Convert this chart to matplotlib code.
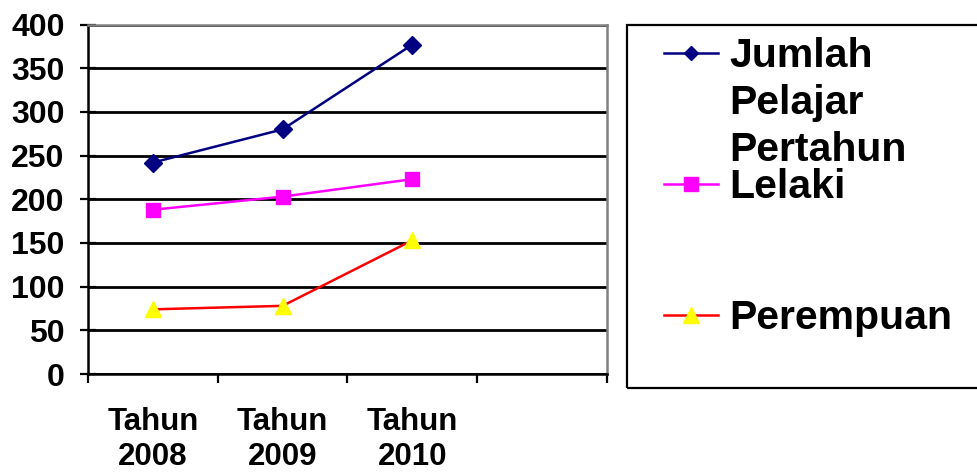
import numpy as np
import matplotlib
matplotlib.use("Agg")
import matplotlib.pyplot as plt
from matplotlib.lines import Line2D
from matplotlib.patches import Rectangle

plt.rcParams['font.family'] = ['Liberation Sans', 'DejaVu Sans']
plt.rcParams['font.weight'] = 'bold'

# --- data ---
categories = ["Tahun\n2008", "Tahun\n2009", "Tahun\n2010", ""]
jumlah = [242, 280, 377]
lelaki = [188, 203, 223]
perempuan = [74, 78, 153]
labels = ["Jumlah\nPelajar\nPertahun", "Lelaki", "Perempuan"]
y_ticks = [0, 50, 100, 150, 200, 250, 300, 350, 400]

W, H = 978, 474
fig = plt.figure(figsize=(W / 100, H / 100), dpi=100)

def fx(p):
    return p / W

def fy(p):
    return 1 - p / H

# plot area in pixels: left 88, right 607, top 24.5, bottom 374
ax = fig.add_axes([fx(88), fy(374), fx(607) - fx(88), fy(24.5) - fy(374)])

x = np.arange(len(jumlah)) + 0.5
ax.plot(x, jumlah, color='#000080', lw=1.8, marker='D', ms=9,
        mfc='#000080', mec='#000080')
ax.plot(x, lelaki, color='#FF00FF', lw=1.8, marker='s', ms=10.5,
        mfc='#FF00FF', mec='#FF00FF')
ax.plot(x, perempuan, color='#FF0000', lw=1.8, marker='^', ms=12,
        mfc='#FFFF00', mec='#FFFF00')

ax.set_xlim(0, len(categories))
ax.set_ylim(0, 400)
ax.set_yticks(y_ticks)
ax.set_yticklabels([str(v) for v in y_ticks], fontsize=23, fontweight='bold')
ax.tick_params(axis='y', direction='inout', length=11.5, width=1.6, pad=11)

ax.set_xticks(np.arange(len(categories) + 1))
ax.set_xticklabels([])
ax.tick_params(axis='x', which='major', direction='out', length=6.5, width=1.6)
ax.set_xticks(np.arange(len(categories)) + 0.5, minor=True)
ax.set_xticklabels(categories, minor=True, fontsize=22.5, fontweight='bold',
                   linespacing=1.2)
ax.tick_params(axis='x', which='minor', length=0, pad=24)

ax.yaxis.grid(True, color='black', lw=2)
ax.set_axisbelow(True)
for s in ['left', 'bottom']:
    ax.spines[s].set_color('black')
    ax.spines[s].set_linewidth(1.8)
for s in ['top', 'right']:
    ax.spines[s].set_color('#808080')
    ax.spines[s].set_linewidth(1.8)

# --- legend (drawn by hand, layout like the original spreadsheet chart) ---
fig.patches.append(Rectangle((fx(627), fy(388)), fx(1000) - fx(627), fy(25) - fy(388),
                             transform=fig.transFigure, fill=False,
                             edgecolor='black', lw=1.6))
colors = ['#000080', '#FF00FF', '#FF0000']
markers = [dict(marker='D', ms=7, mfc='#000080', mec='#000080'),
           dict(marker='s', ms=10, mfc='#FF00FF', mec='#FF00FF'),
           dict(marker='^', ms=11, mfc='#FFFF00', mec='#FFFF00')]
line_y = [53, 184, 315]
for lab, col, mk, ly in zip(labels, colors, markers, line_y):
    fig.add_artist(Line2D([fx(664), fx(718)], [fy(ly)] * 2, lw=1.8, color=col,
                          transform=fig.transFigure))
    fig.add_artist(Line2D([fx(691)], [fy(ly)], lw=0,
                          transform=fig.transFigure, **mk))
    for i, part in enumerate(lab.split("\n")):
        fig.text(fx(729), fy(ly + 14 + i * 47), part, fontsize=29.5,
                 fontweight='bold', va='baseline', ha='left')

fig.savefig("out.png", dpi=100)
